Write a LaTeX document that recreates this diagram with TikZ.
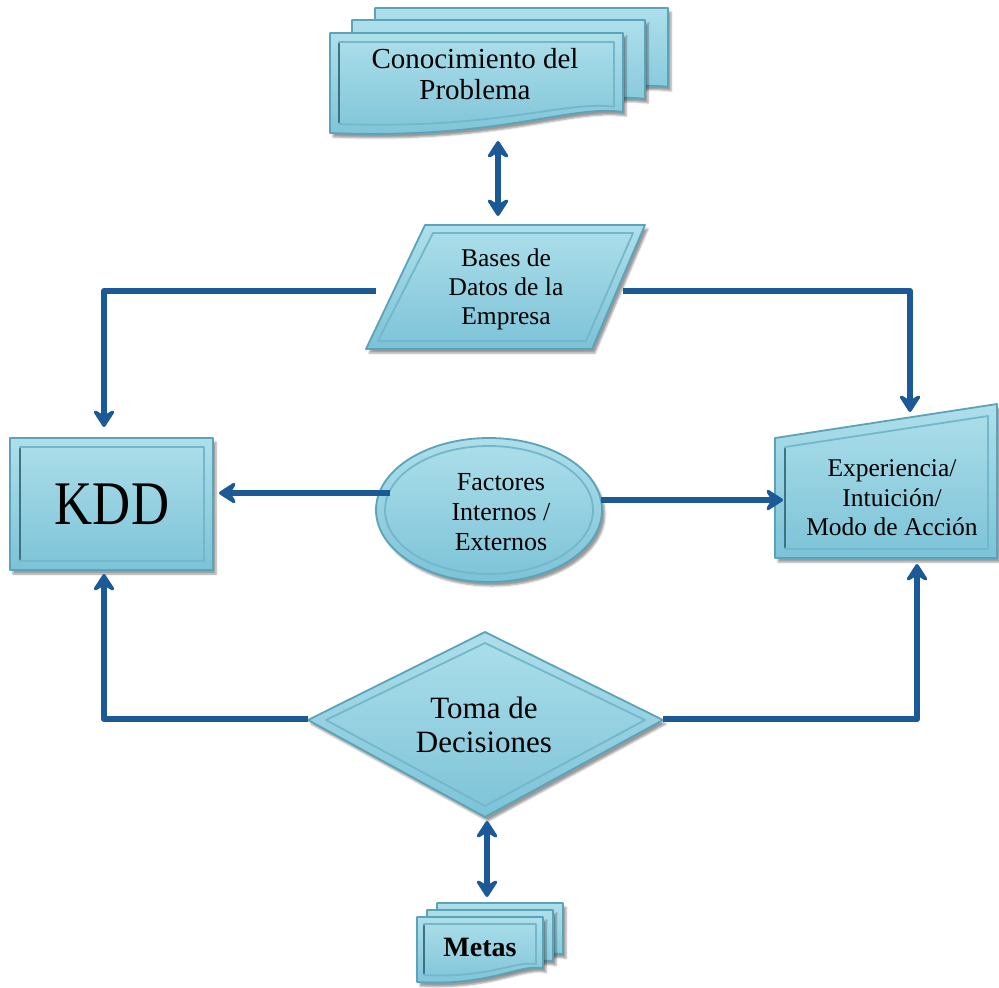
\documentclass[tikz,border=0pt]{standalone}
\usepackage{fontspec}
\setmainfont{Liberation Serif}
\usetikzlibrary{arrows.meta,shadows.blur}

\definecolor{arrowblue}{HTML}{1B5A96}
\definecolor{boxtop}{HTML}{AEDFEB}
\definecolor{boxbot}{HTML}{7CC3D7}
\definecolor{boxedge}{HTML}{5AA3B8}
\definecolor{boxline}{HTML}{74B7CA}
\definecolor{boxdark}{HTML}{2F5A68}

% a document sheet with a wavy lower edge: left x, top y, width, height, style
\newcommand{\docsheet}[5]{%
  \path[#5] (#1,#2) -- ({#1+#3},#2) -- ({#1+#3},{#2+0.79*#4})
    .. controls ({#1+0.82*#3},{#2+0.71*#4}) and ({#1+0.58*#3},{#2+1.07*#4})
    .. (#1,{#2+#4}) -- cycle;}

\tikzset{
  panel/.style={top color=boxtop, bottom color=boxbot, draw=boxedge,
    line width=1.8pt, line join=round,
    blur shadow={shadow xshift=3pt, shadow yshift=-4pt}},
  bevel/.style={draw=boxline, line width=1.8pt, line join=round},
  bevelshade/.style={draw=boxdark, line width=2.2pt, line cap=round, opacity=0.75},
  flowtip/.tip={Stealth[length=21pt,width=27pt,inset=8pt,round]},
  flow/.style={draw=arrowblue, line width=6.5pt, line join=round, -flowtip},
  twoway/.style={flow, flowtip-flowtip},
  caption/.style={align=center, text=black, inner sep=0pt},
}

\begin{document}
\begin{tikzpicture}[x=1pt,y=-1pt]
\useasboundingbox (0,0) rectangle (999,988);

% --- Conocimiento del Problema: three stacked sheets
\docsheet{375}{8}{293}{100}{panel}
\docsheet{352}{20}{293}{100}{panel}
\docsheet{330}{33}{293}{100}{panel}
\docsheet{339}{42}{275}{82}{bevel}
\path[bevelshade] (339,44) -- (339,122);

% --- Bases de Datos de la Empresa: parallelogram
\path[panel] (425,225) -- (645,225) -- (592,349) -- (366,349) -- cycle;
\path[bevel] (433,233) -- (633,233) -- (586,341) -- (378,341) -- cycle;

% --- KDD: rectangle
\path[panel] (10,438) rectangle (213,570);
\path[bevel] (20,447) rectangle (204,561);
\path[bevelshade] (20,449) -- (20,559);

% --- Factores Internos / Externos: ellipse
\path[panel] (489,510) ellipse [x radius=113, y radius=72];
\path[bevel] (489,510) ellipse [x radius=104, y radius=64];

% --- Experiencia / Intuicion / Modo de Accion: manual input shape
\path[panel] (775,438) -- (997,404) -- (997,558) -- (775,558) -- cycle;
\path[bevel] (785,447) -- (988,416) -- (988,549) -- (785,549) -- cycle;
\path[bevelshade] (785,449) -- (785,547);

% --- Toma de Decisiones: diamond
\path[panel] (485,632) -- (663,720) -- (485,817) -- (308,720) -- cycle;
\path[bevel] (485,643) -- (645,720) -- (485,806) -- (326,720) -- cycle;

% --- Metas: three small stacked sheets
\docsheet{437}{903}{126}{65}{panel}
\docsheet{427}{910}{126}{65}{panel}
\docsheet{417}{917}{126}{65}{panel}
\docsheet{424}{924}{112}{51}{bevel}
\path[bevelshade] (424,926) -- (424,973);

% --- labels
\node[caption, font=\fontsize{29}{31}\selectfont] (prob) at (475,74) {Conocimiento del\\Problema};
\node[caption, font=\fontsize{25.5}{29}\selectfont] (bd) at (506,289) {Bases de\\Datos de la\\Empresa};
\node[caption, font=\fontsize{62}{62}\selectfont] (kdd) at (112,504) {\scalebox{0.85}[1]{KDD}};
\node[caption, font=\fontsize{26}{30}\selectfont] (fac) at (501,512) {Factores\\Internos /\\Externos};
\node[caption, font=\fontsize{25.5}{29.5}\selectfont] (exp) at (892,498) {Experiencia/\\Intuición/\\Modo de Acción};
\node[caption, font=\fontsize{31}{34}\selectfont] (toma) at (484,725) {Toma de\\Decisiones};
\node[caption, font=\bfseries\fontsize{28}{30}\selectfont] (metas) at (480,947) {Metas};

% --- connector end points on the shape outlines
\coordinate (prob-s) at (498,141);
\coordinate (bd-n) at (498,216);
\coordinate (bd-w) at (376,291);
\coordinate (bd-e) at (623,291);
\coordinate (kdd-n) at (104,427);
\coordinate (kdd-e) at (219,493);
\coordinate (kdd-s) at (104,574);
\coordinate (exp-n) at (910,412);
\coordinate (exp-w) at (783,500);
\coordinate (exp-s) at (917,564);
\coordinate (fac-w) at (390,493);
\coordinate (fac-e) at (601,500);
\coordinate (toma-w) at (308,719);
\coordinate (toma-e) at (663,719);
\coordinate (toma-s) at (487,821);
\coordinate (metas-n) at (487,897);

% --- connectors
\draw[twoway] (prob-s) -- (bd-n);
\draw[flow] (bd-w) -| (kdd-n);
\draw[flow] (bd-e) -| (exp-n);
\draw[flow] (fac-w) -- (kdd-e);
\draw[flow] (fac-e) -- (exp-w);
\draw[flow] (toma-w) -| (kdd-s);
\draw[flow] (toma-e) -| (exp-s);
\draw[twoway] (toma-s) -- (metas-n);
\end{tikzpicture}
\end{document}
